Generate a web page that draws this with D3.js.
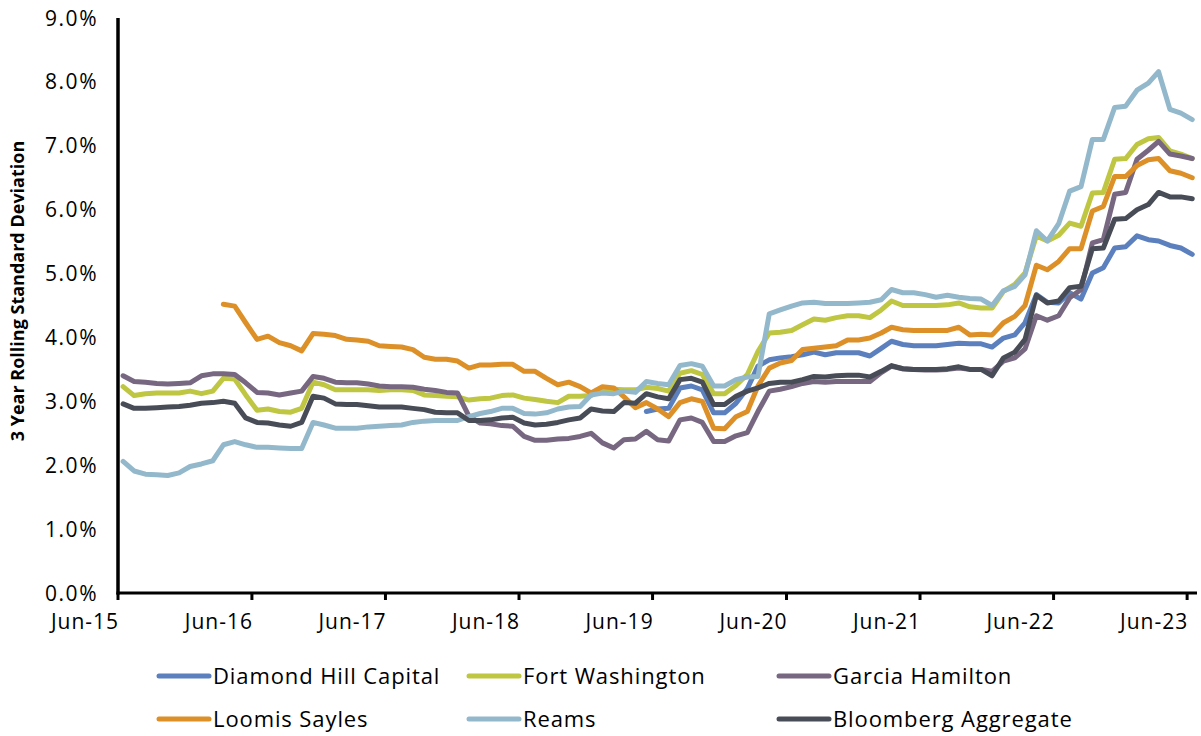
<!DOCTYPE html>
<html>
<head>
<meta charset="utf-8">
<script src="https://cdn.jsdelivr.net/npm/d3@7"></script>
<style>
  html, body { margin: 0; padding: 0; background: #fff; }
  svg { display: block; font-family: "Open Sans", Lato, sans-serif; }
</style>
</head>
<body>
<div id="chart"></div>
<script>
var width = 1201,
    height = 736;

// monthly observations, Jun-15 .. Jun-23
var firstMonth = new Date(2015, 5, 15);
var dates = d3.range(97).map(function(i) { return d3.timeMonth.offset(firstMonth, i); });

var yTicks = [0, 1, 2, 3, 4, 5, 6, 7, 8, 9];
var xTicks = [2015, 2016, 2017, 2018, 2019, 2020, 2021, 2022, 2023];

var names = ["Diamond Hill Capital", "Fort Washington", "Garcia Hamilton",
             "Loomis Sayles", "Reams", "Bloomberg Aggregate"];
var colors = ["#5b80bd", "#bfc641", "#776781", "#dc9027", "#93b8cb", "#484c56"];

var N = null;

var diamondHill = [
  N,N,N,N,N,N,N,N,N,N,N,N,N,N,N,N,N,N,N,N,N,N,N,N,N,
  N,N,N,N,N,N,N,N,N,N,N,N,N,N,N,N,N,N,N,N,N,N,2.84,2.88,
  2.89,3.21,3.24,3.18,2.82,2.82,2.97,3.20,3.55,3.65,3.68,3.70,3.73,3.77,3.73,3.76,3.76,3.76,3.71,3.83,3.94,3.89,3.87,3.87,
  3.87,3.89,3.91,3.90,3.90,3.85,3.99,4.04,4.23,4.67,4.55,4.54,4.70,4.60,5.01,5.09,5.40,5.42,5.59,5.53,5.51,5.44,5.40,5.30
];

var fortWashington = [
  3.23,3.09,3.12,3.13,3.13,3.13,3.16,3.12,3.16,3.36,3.35,3.10,2.86,2.88,2.84,2.83,2.89,3.30,3.26,3.18,3.18,3.18,3.18,3.17,3.18,
  3.18,3.17,3.10,3.09,3.08,3.07,3.02,3.04,3.05,3.09,3.10,3.05,3.03,3.00,2.98,3.08,3.08,3.09,3.18,3.19,3.18,3.18,3.22,3.20,
  3.16,3.44,3.48,3.42,3.12,3.12,3.25,3.42,3.78,4.07,4.08,4.11,4.20,4.29,4.27,4.31,4.34,4.34,4.31,4.43,4.57,4.50,4.50,4.50,
  4.50,4.51,4.54,4.48,4.46,4.46,4.72,4.83,5.01,5.59,5.51,5.60,5.79,5.74,6.26,6.27,6.79,6.80,7.02,7.11,7.13,6.92,6.87,6.80
];

var garciaHamilton = [
  3.40,3.31,3.30,3.28,3.27,3.28,3.29,3.40,3.43,3.43,3.42,3.29,3.14,3.13,3.10,3.13,3.16,3.39,3.36,3.30,3.29,3.29,3.27,3.24,3.23,
  3.23,3.22,3.19,3.17,3.14,3.13,2.77,2.66,2.65,2.62,2.61,2.45,2.39,2.39,2.41,2.42,2.45,2.50,2.35,2.27,2.40,2.41,2.53,2.40,
  2.38,2.71,2.74,2.67,2.37,2.37,2.46,2.51,2.84,3.16,3.19,3.23,3.28,3.31,3.30,3.31,3.31,3.31,3.31,3.45,3.55,3.51,3.50,3.49,
  3.49,3.50,3.52,3.50,3.50,3.47,3.63,3.68,3.82,4.34,4.27,4.34,4.62,4.75,5.48,5.53,6.24,6.27,6.79,6.93,7.07,6.87,6.84,6.80
];

var loomisSayles = [
  N,N,N,N,N,N,N,N,N,4.52,4.49,4.23,3.97,4.02,3.92,3.87,3.79,4.06,4.05,4.03,3.97,3.96,3.94,3.87,3.86,
  3.85,3.81,3.69,3.66,3.66,3.63,3.52,3.57,3.57,3.58,3.58,3.47,3.47,3.36,3.26,3.30,3.23,3.13,3.23,3.21,3.07,2.90,2.98,2.88,
  2.76,2.98,3.04,3.00,2.58,2.57,2.76,2.84,3.24,3.52,3.60,3.64,3.81,3.83,3.85,3.87,3.96,3.96,3.99,4.07,4.16,4.12,4.11,4.11,
  4.11,4.11,4.16,4.04,4.05,4.04,4.23,4.33,4.50,5.13,5.06,5.19,5.39,5.39,5.98,6.05,6.52,6.52,6.69,6.78,6.80,6.61,6.57,6.50
];

var reams = [
  2.06,1.91,1.86,1.85,1.84,1.88,1.98,2.02,2.07,2.32,2.37,2.32,2.28,2.28,2.27,2.26,2.26,2.67,2.63,2.58,2.58,2.58,2.60,2.61,2.62,
  2.63,2.67,2.69,2.70,2.70,2.70,2.76,2.81,2.84,2.89,2.89,2.81,2.80,2.82,2.88,2.91,2.92,3.10,3.13,3.12,3.16,3.14,3.31,3.28,
  3.26,3.56,3.59,3.55,3.24,3.24,3.34,3.38,3.39,4.37,4.43,4.49,4.54,4.55,4.53,4.53,4.53,4.54,4.55,4.59,4.75,4.70,4.70,4.67,
  4.63,4.66,4.63,4.61,4.60,4.50,4.73,4.80,4.98,5.67,5.51,5.78,6.29,6.36,7.10,7.10,7.60,7.62,7.87,7.98,8.16,7.57,7.51,7.41
];

var bloombergAgg = [
  2.96,2.89,2.89,2.90,2.91,2.92,2.94,2.97,2.98,3.00,2.97,2.74,2.67,2.66,2.63,2.61,2.67,3.08,3.05,2.96,2.95,2.95,2.93,2.91,2.91,
  2.91,2.89,2.87,2.83,2.82,2.82,2.70,2.70,2.71,2.74,2.75,2.66,2.63,2.64,2.67,2.71,2.74,2.88,2.85,2.84,2.98,2.97,3.12,3.07,
  3.04,3.34,3.36,3.30,2.95,2.95,3.08,3.16,3.21,3.28,3.30,3.30,3.34,3.39,3.38,3.40,3.41,3.41,3.38,3.47,3.56,3.51,3.50,3.50,
  3.50,3.51,3.54,3.50,3.50,3.40,3.68,3.77,3.97,4.66,4.54,4.57,4.78,4.80,5.39,5.40,5.85,5.86,6.00,6.08,6.27,6.20,6.20,6.17
];

var series = [diamondHill, fortWashington, garciaHamilton, loomisSayles, reams, bloombergAgg];

var svg = d3.select("#chart")
  .append("svg")
  .attr("width", width)
  .attr("height", height);

var plotLeft = 118, plotRight = 1197, plotTop = 18, plotBottom = 593;

var x = d3.scaleTime()
  .domain([new Date(2015, 5, 1), new Date(2023, 5, 28)])
  .range([plotLeft, plotRight]);

var y = d3.scaleLinear()
  .domain([0, 9])
  .range([plotBottom, plotTop]);

var line = d3.line()
  .defined(function(d) { return d !== null; })
  .x(function(d, i) { return x(dates[i]); })
  .y(function(d) { return y(d); });

// lines, in legend order so later series sit on top
svg.selectAll(".series")
  .data(series)
  .enter().append("path")
    .attr("class", "series")
    .attr("fill", "none")
    .attr("stroke", function(d, i) { return colors[i]; })
    .attr("stroke-width", 5)
    .attr("stroke-linejoin", "round")
    .attr("stroke-linecap", "round")
    .attr("d", line);

// y axis
svg.append("line")
  .attr("x1", plotLeft).attr("x2", plotLeft)
  .attr("y1", plotTop).attr("y2", plotBottom + 1.5)
  .attr("stroke", "#000").attr("stroke-width", 3.5);

svg.selectAll(".ylab")
  .data(yTicks)
  .enter().append("text")
    .attr("class", "ylab")
    .attr("x", 98)
    .attr("y", function(d) { return y(d); })
    .attr("dy", "0.36em")
    .attr("text-anchor", "end")
    .attr("font-size", 21)
    .attr("letter-spacing", 1.5)
    .attr("fill", "#000")
    .text(function(d) { return d.toFixed(1) + "%"; });

svg.append("text")
  .attr("transform", "translate(24," + 291 + ") rotate(-90)")
  .attr("text-anchor", "middle")
  .attr("font-size", 18)
  .attr("font-weight", "bold")
  .attr("fill", "#000")
  .text("3 Year Rolling Standard Deviation");

// x axis
svg.append("line")
  .attr("x1", plotLeft - 1.5).attr("x2", plotRight)
  .attr("y1", plotBottom).attr("y2", plotBottom)
  .attr("stroke", "#000").attr("stroke-width", 3);

var tickDates = xTicks.map(function(yr) { return new Date(yr, 5, 1); });

svg.selectAll(".xtick")
  .data(tickDates)
  .enter().append("line")
    .attr("class", "xtick")
    .attr("x1", function(d) { return x(d); })
    .attr("x2", function(d) { return x(d); })
    .attr("y1", plotBottom)
    .attr("y2", plotBottom + 7)
    .attr("stroke", "#000").attr("stroke-width", 3);

svg.selectAll(".xlab")
  .data(tickDates)
  .enter().append("text")
    .attr("class", "xlab")
    .attr("x", function(d) { return x(d) - 33; })
    .attr("y", 629)
    .attr("text-anchor", "middle")
    .attr("font-size", 21)
    .attr("letter-spacing", 1)
    .attr("fill", "#000")
    .text(d3.timeFormat("%b-%y"));

// legend
var legend = svg.selectAll(".legend")
  .data(names)
  .enter().append("g")
    .attr("class", "legend")
    .attr("transform", function(d, i) {
      var col = i % 3, row = Math.floor(i / 3);
      return "translate(" + [157, 467, 777][col] + "," + (676 + row * 43) + ")";
    });

legend.append("line")
  .attr("x1", 2).attr("x2", 52)
  .attr("stroke", function(d, i) { return colors[i]; })
  .attr("stroke-width", 5)
  .attr("stroke-linecap", "round");

legend.append("text")
  .attr("x", 56)
  .attr("dy", "0.36em")
  .attr("font-size", 22)
  .attr("letter-spacing", 0.9)
  .attr("fill", "#000")
  .text(function(d) { return d; });
</script>
</body>
</html>
